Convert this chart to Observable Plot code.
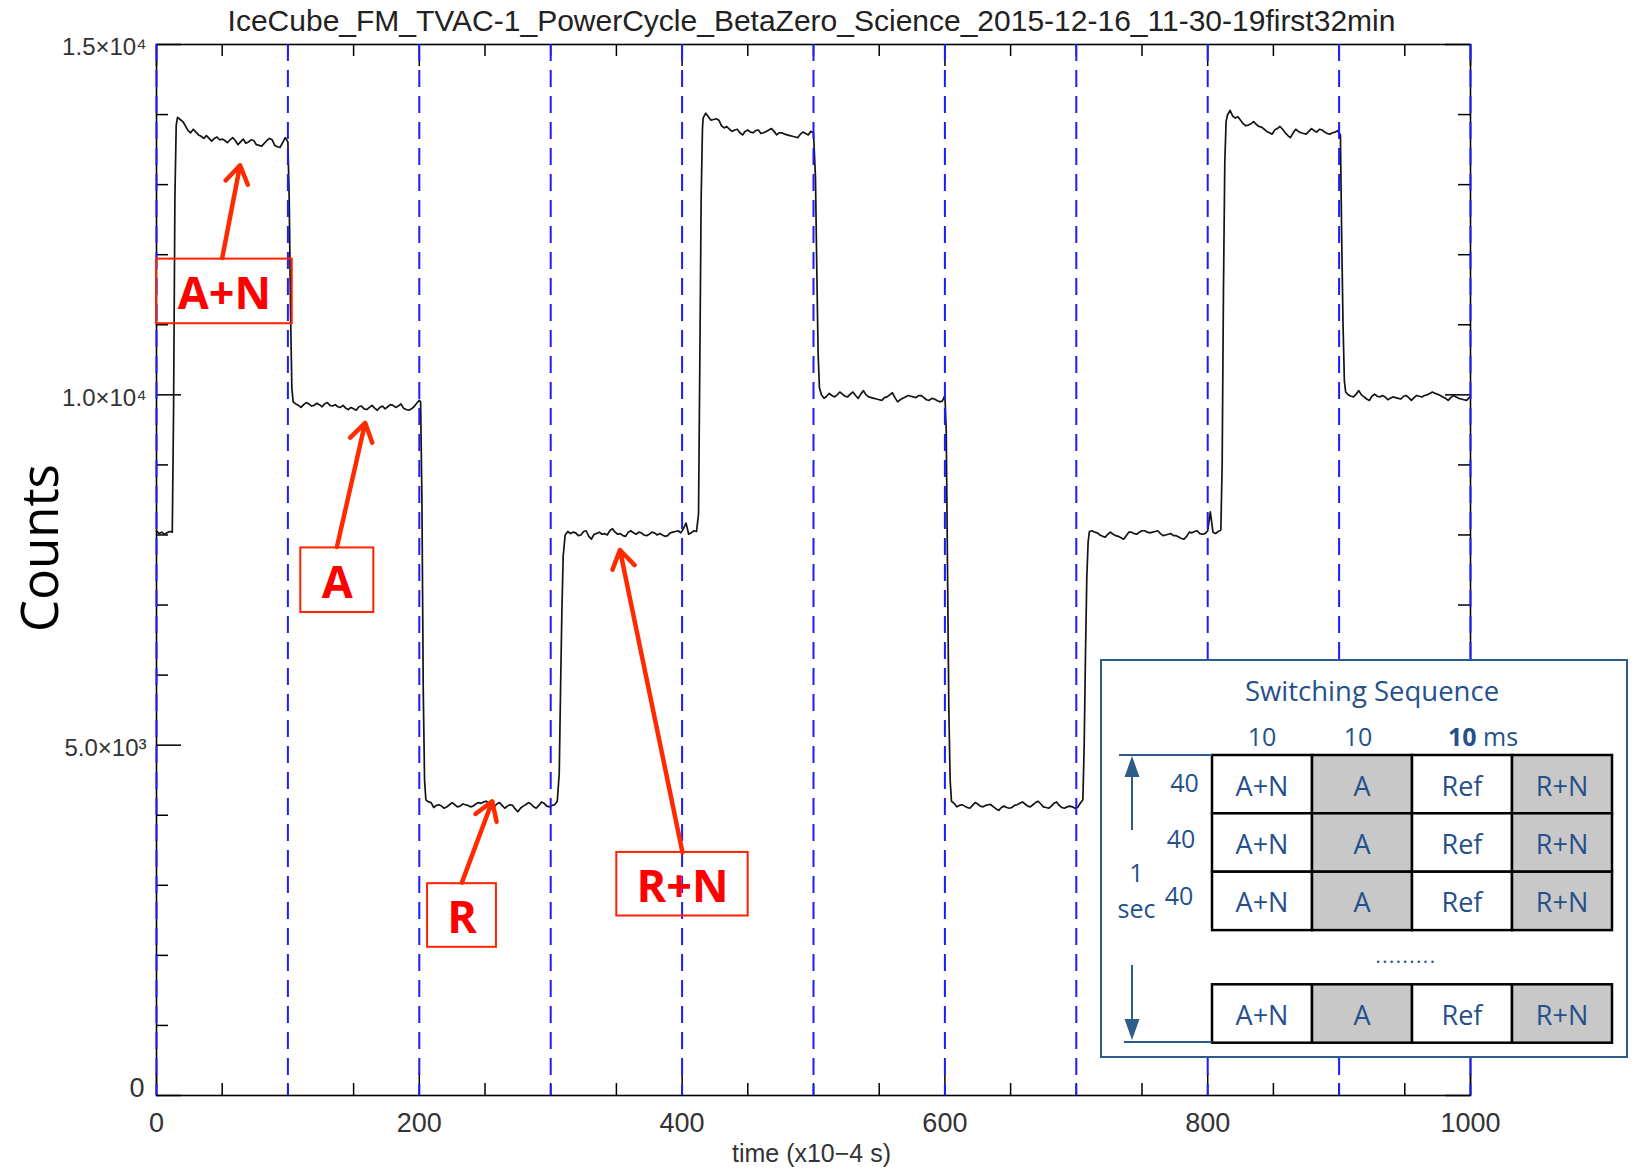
<!DOCTYPE html>
<html>
<head>
<meta charset="utf-8">
<script src="https://cdn.jsdelivr.net/npm/d3@7"></script>
<script src="https://cdn.jsdelivr.net/npm/@observablehq/plot@0.6"></script>
<style>
  body { margin: 0; background: #fff; }
  #wrap { position: relative; width: 1635px; height: 1170px; overflow: hidden; background: #fff; }
  #inset { position: absolute; left: 1100px; top: 659px; width: 528px; height: 399px; }
</style>
</head>
<body>
<div id="wrap"><div id="chart"></div><div id="inset"></div></div>
<script>
// ---------------- DATA ----------------
const chartTitle = "IceCube_FM_TVAC-1_PowerCycle_BetaZero_Science_2015-12-16_11-30-19first32min";
const xAxisTitle = "time (x10−4 s)";
const yAxisTitle = "Counts";

const xTickValues = [0, 200, 400, 600, 800, 1000];
const xTickLabels = ["0", "200", "400", "600", "800", "1000"];
const xMinorTicks = [50, 100, 150, 250, 300, 350, 450, 500, 550, 650, 700, 750, 850, 900, 950];
const yTickValues = [0, 5000, 10000, 15000];
const yTickLabels = ["0", "5.0×10³", "1.0×10⁴", "1.5×10⁴"];
const yMinorTicks = [1000, 2000, 3000, 4000, 6000, 7000, 8000, 9000, 11000, 12000, 13000, 14000];
const switchTimes = [0, 100, 200, 300, 400, 500, 600, 700, 800, 900, 1000];

// plateau segments: start time, step 2, counts
const rn0Start = 0;
const rn0 = [8060, 8020, 8040, 8010, 8030, 8050, 8040];
const rise0 = [[13, 9800], [14, 12800], [15, 13850]];
const an1Start = 16;
const an1 = [13960, 13930, 13900, 13840, 13770, 13740, 13790, 13750, 13710, 13690,
             13660, 13700, 13660, 13620, 13660, 13680, 13640, 13650, 13630, 13600,
             13640, 13670, 13630, 13570, 13610, 13650, 13590, 13610, 13640, 13630,
             13570, 13560, 13550, 13590, 13630, 13660, 13640, 13560, 13540, 13530,
             13600, 13670, 13610];
const drop1 = [[101, 12800], [102, 11200], [103, 10100]];
const a1Start = 104;
const a1 = [9900, 9870, 9850, 9820, 9860, 9890, 9870, 9840, 9850, 9880,
            9860, 9830, 9870, 9890, 9850, 9840, 9860, 9830, 9820, 9850,
            9810, 9790, 9820, 9800, 9780, 9830, 9840, 9800, 9790, 9820,
            9850, 9810, 9780, 9820, 9840, 9800, 9830, 9860, 9850, 9820,
            9840, 9870, 9810, 9790, 9780, 9800, 9830, 9880, 9920];
const drop2 = [[201, 9900], [202, 8500], [203, 5800], [204, 4500]];
const r1Start = 205;
const r1 = [4220, 4190, 4180, 4110, 4140, 4150, 4130, 4100, 4120, 4150,
            4180, 4150, 4120, 4130, 4160, 4150, 4140, 4120, 4130, 4160,
            4180, 4170, 4190, 4200, 4170, 4130, 4120, 4160, 4180, 4140,
            4100, 4130, 4150, 4140, 4090, 4050, 4100, 4130, 4150, 4180,
            4160, 4120, 4100, 4140, 4190, 4170, 4130, 4120, 4140, 4150,
            4200];
const rise3 = [[306.5, 4600], [307.5, 5800], [308.5, 6900], [309.5, 7700]];
const rn1Start = 311;
const rn1 = [8000, 8050, 8020, 8040, 8030, 7990, 8000, 8050, 8060, 7980,
             7940, 8010, 8020, 8040, 8010, 8020, 8000, 8060, 8090, 8040,
             8010, 8020, 7990, 7980, 8040, 8060, 8030, 8010, 8040, 8030,
             8000, 7990, 8010, 8040, 8030, 8000, 8020, 8000, 7980, 7990,
             8030, 8040, 8050, 8060, 8030, 8090, 8170, 8010, 8030, 8060,
             8050];
const rise4 = [[412.5, 8300], [413.5, 10500], [414.5, 12800], [415.5, 13800]];
const an2Start = 416;
const an2 = [13950, 14020, 13970, 13920, 13930, 13940, 13920, 13840, 13810, 13830,
             13790, 13760, 13780, 13790, 13740, 13710, 13760, 13780, 13750, 13740,
             13770, 13780, 13730, 13740, 13760, 13780, 13800, 13760, 13710, 13740,
             13740, 13720, 13710, 13700, 13690, 13680, 13670, 13720, 13750, 13730,
             13710, 13760, 13740];
const drop5 = [[501.5, 13100], [502.5, 11800], [503.5, 10600], [504.5, 10100]];
const a2Start = 506;
const a2 = [10000, 9950, 9980, 10020, 9990, 9970, 10000, 10040, 10010, 9980,
            9970, 10010, 10040, 9990, 9950, 10010, 10060, 10000, 9970, 9960,
            9950, 9940, 9930, 9920, 9960, 9970, 10000, 10030, 9960, 9900,
            9930, 9950, 9970, 9990, 9980, 9970, 9960, 9990, 9990, 9960,
            9930, 9920, 9950, 9940, 9920, 9900, 9910, 9990];
const drop6 = [[601, 9500], [602, 7500], [603, 5500], [604, 4500]];
const r2Start = 605;
const r2 = [4200, 4170, 4120, 4140, 4150, 4130, 4110, 4100, 4140, 4180,
            4160, 4130, 4120, 4140, 4150, 4150, 4120, 4090, 4070, 4110,
            4130, 4110, 4100, 4110, 4140, 4150, 4170, 4190, 4160, 4130,
            4120, 4150, 4180, 4200, 4160, 4120, 4110, 4100, 4130, 4170,
            4190, 4140, 4110, 4100, 4120, 4130, 4120, 4100, 4110, 4170,
            4220];
const rise7 = [[706, 5000], [707, 6300], [708, 7400], [709, 7900]];
const rn2Start = 710;
const rn2 = [8050, 8060, 8040, 8030, 8000, 7980, 7970, 8010, 8040, 8010,
             7990, 7980, 7960, 7940, 7990, 8040, 8040, 8020, 8010, 8040,
             8060, 8060, 8040, 8030, 8040, 8050, 8060, 8020, 7990, 8000,
             8010, 8020, 7990, 7990, 7970, 7950, 7940, 7980, 8040, 8030,
             8050, 8060, 8020, 8010, 8020, 8060, 8330, 8040, 8020, 8050,
             8070];
const rise8 = [[811, 9000], [812, 11500], [813, 13300], [814, 13900]];
const an3Start = 815;
const an3 = [13990, 14060, 13980, 13950, 13970, 13920, 13870, 13840, 13850, 13870,
             13900, 13860, 13830, 13820, 13790, 13760, 13740, 13720, 13780, 13800,
             13830, 13790, 13740, 13700, 13670, 13740, 13790, 13760, 13740, 13730,
             13720, 13760, 13800, 13770, 13750, 13790, 13780, 13750, 13730, 13720,
             13740, 13750, 13770, 13710];
const drop9 = [[902, 12200], [903, 11000], [904, 10200]];
const a3Start = 905;
const a3 = [10040, 10000, 9980, 9970, 10010, 10060, 10000, 9970, 9940, 9920,
            9980, 10010, 9980, 9970, 9990, 9970, 9930, 9950, 9970, 9960,
            9950, 9940, 9980, 9990, 9960, 9920, 9960, 9990, 9980, 9970,
            9990, 10000, 10020, 10040, 10020, 10010, 9990, 9970, 9950, 9920,
            9960, 9990, 9970, 9950, 9940, 9930, 9920, 9960];
const endPoint = [[1000, 9970]];

// annotations (data coordinates)
const annoLabels = ["A+N", "A", "R", "R+N"];
const annoBoxX1 = [0, 109.8, 206.3, 350.3];
const annoBoxX2 = [103.3, 165.4, 258.7, 450.3];
const annoBoxYlo = [11015, 6893, 2115, 2562];
const annoBoxYhi = [11937, 7815, 3023, 3469];
const annoArrowX1 = [50.0, 137.3, 232.4, 400.3];
const annoArrowY1 = [11952, 7829, 3038, 3469];
const annoArrowX2 = [63.6, 158.8, 255.5, 352.7];
const annoArrowY2 = [13277, 9600, 4199, 7785];

// inset (switching sequence)
const insetTitle = "Switching Sequence";
const insetHeaders = ["10", "10", "10"];
const insetUnit = " ms";
const insetCells = ["A+N", "A", "Ref", "R+N"];
const insetShaded = [false, true, false, true];
const insetRowLabels = ["40", "40", "40"];
const insetSideLabel = ["1", "sec"];
const insetDots = ".........";

// ---------------- BUILD ----------------
const seg = (start, vals) => vals.map((v, i) => ({t: start + 2 * i, v}));
const pts = arr => arr.map(([t, v]) => ({t, v}));
const trace = [
  ...seg(rn0Start, rn0), ...pts(rise0), ...seg(an1Start, an1), ...pts(drop1),
  ...seg(a1Start, a1), ...pts(drop2), ...seg(r1Start, r1), ...pts(rise3),
  ...seg(rn1Start, rn1), ...pts(rise4), ...seg(an2Start, an2), ...pts(drop5),
  ...seg(a2Start, a2), ...pts(drop6), ...seg(r2Start, r2), ...pts(rise7),
  ...seg(rn2Start, rn2), ...pts(rise8), ...seg(an3Start, an3), ...pts(drop9),
  ...seg(a3Start, a3), ...pts(endPoint)
].sort((a, b) => a.t - b.t);

const annos = annoLabels.map((label, i) => ({
  label, x1: annoBoxX1[i], x2: annoBoxX2[i], ylo: annoBoxYlo[i], yhi: annoBoxYhi[i],
  ax1: annoArrowX1[i], ay1: annoArrowY1[i], ax2: annoArrowX2[i], ay2: annoArrowY2[i]
}));

const W = 1635, H = 1170;
const mL = 156, mR = 165, mT = 44, mB = 75;
const fw = W - mL - mR, fh = H - mT - mB;
const tickFont = "Liberation Sans, Arial, sans-serif";

const chart = Plot.plot({
  width: W, height: H,
  marginLeft: mL, marginRight: mR, marginTop: mT, marginBottom: mB,
  x: {domain: [0, 1000], axis: null},
  y: {domain: [0, 15000], axis: null},
  style: {background: "#fff", overflow: "visible"},
  marks: [
    // ticks (inward, IDL style)
    Plot.tickX(xTickValues, {x: d => d, insetTop: fh - 22, stroke: "#000", strokeWidth: 1.5}),
    Plot.tickX(xMinorTicks, {x: d => d, insetTop: fh - 12, stroke: "#000", strokeWidth: 1.5}),
    Plot.tickX(xTickValues, {x: d => d, insetBottom: fh - 22, stroke: "#000", strokeWidth: 1.5}),
    Plot.tickX(xMinorTicks, {x: d => d, insetBottom: fh - 12, stroke: "#000", strokeWidth: 1.5}),
    Plot.tickY(yTickValues, {y: d => d, insetRight: fw - 25, stroke: "#000", strokeWidth: 1.5}),
    Plot.tickY(yMinorTicks, {y: d => d, insetRight: fw - 12, stroke: "#000", strokeWidth: 1.5}),
    Plot.tickY(yTickValues, {y: d => d, insetLeft: fw - 25, stroke: "#000", strokeWidth: 1.5}),
    Plot.tickY(yMinorTicks, {y: d => d, insetLeft: fw - 12, stroke: "#000", strokeWidth: 1.5}),
    Plot.frame({stroke: "#000", strokeWidth: 1.6}),
    // signal trace
    Plot.line(trace, {x: "t", y: "v", stroke: "#141414", strokeWidth: 1.7, strokeLinejoin: "round"}),
    // switching boundaries
    Plot.ruleX(switchTimes, {x: d => d, stroke: "#1c1cff", strokeWidth: 2, strokeDasharray: "17,9"}),
    // tick labels
    Plot.text(xTickValues, {x: d => d, frameAnchor: "bottom", lineAnchor: "middle", dy: 28,
      text: (d, i) => xTickLabels[i], fontSize: 27, fontFamily: tickFont, fill: "#333", ariaLabel: "xticklabels"}),
    Plot.text(yTickValues, {filter: d => d !== 0, y: d => d, frameAnchor: "left", lineAnchor: "middle",
      dx: -10, dy: 3, textAnchor: "end", text: d => yTickLabels[yTickValues.indexOf(d)],
      fontSize: 24, fontFamily: tickFont, fill: "#333", ariaLabel: "yticklabels"}),
    Plot.text(yTickValues, {filter: d => d === 0, y: d => d, frameAnchor: "left", lineAnchor: "bottom",
      dx: -12, dy: 1, textAnchor: "end", text: d => yTickLabels[yTickValues.indexOf(d)],
      fontSize: 27, fontFamily: tickFont, fill: "#333"}),
    // axis titles and chart title
    Plot.text([chartTitle], {frameAnchor: "top", lineAnchor: "middle", dy: -23, dx: -2, text: d => d,
      fontSize: 30, fontFamily: tickFont, fill: "#222", ariaLabel: "title"}),
    Plot.text([xAxisTitle], {frameAnchor: "bottom", lineAnchor: "middle", dy: 58, dx: -2, text: d => d,
      fontSize: 25, fontFamily: tickFont, fill: "#333", ariaLabel: "xtitle"}),
    Plot.text([yAxisTitle], {frameAnchor: "left", textAnchor: "middle", lineAnchor: "middle",
      dx: -115, dy: -22, rotate: -90, text: d => d,
      fontSize: 51, fontFamily: "Open Sans, sans-serif", fill: "#000"}),
    // annotations
    Plot.rect(annos, {x1: "x1", x2: "x2", y1: "ylo", y2: "yhi", fill: "none", stroke: "#ff2200", strokeWidth: 2}),
    Plot.arrow(annos, {x1: "ax1", y1: "ay1", x2: "ax2", y2: "ay2", stroke: "#ff2a00", strokeWidth: 4.5,
      headLength: 7, headAngle: 65}),
    Plot.text(annos, {x: d => (d.x1 + d.x2) / 2, y: d => (d.ylo + d.yhi) / 2, dy: 3, text: "label",
      fontSize: 45, fontWeight: "bold", fontFamily: "Open Sans, sans-serif", fill: "#ff0000"})
  ]
});
document.getElementById("chart").appendChild(chart);

const svgSel = d3.select(chart);
svgSel.select('g[aria-label="title"] text').attr("textLength", 1350).attr("lengthAdjust", "spacingAndGlyphs");
svgSel.select('g[aria-label="xtitle"] text').attr("textLength", 192).attr("lengthAdjust", "spacingAndGlyphs");
svgSel.select('g[aria-label="yticklabels"]').attr("letter-spacing", "2px");
svgSel.select('g[aria-label="xticklabels"]').attr("letter-spacing", "2px");

// ---------------- INSET ----------------
const blue = "#25508c";
const iw = 528, ih = 399;
const inset = d3.select("#inset").append("svg").attr("width", iw).attr("height", ih)
  .style("font-family", "Open Sans, sans-serif");
inset.append("rect").attr("x", 1).attr("y", 1).attr("width", iw - 2).attr("height", ih - 2)
  .attr("fill", "#fff").attr("stroke", "#2e5c8a").attr("stroke-width", 2);
inset.append("text").attr("x", 272).attr("y", 31).attr("text-anchor", "middle").attr("dominant-baseline", "central")
  .attr("font-size", 27.5).attr("fill", blue).text(insetTitle);
const colX = [112, 212, 312, 412, 512];
const headerX = [162, 258, 383];
insetHeaders.forEach((h, i) => {
  const t = inset.append("text").attr("x", headerX[i]).attr("y", 77).attr("text-anchor", "middle")
    .attr("dominant-baseline", "central").attr("font-size", 25).attr("fill", blue);
  if (i < 2) t.text(h);
  else { t.append("tspan").attr("font-weight", "bold").text(h); t.append("tspan").text(insetUnit); }
});
const rowsY = [96, 154.3, 212.7, 325.3];
const rowH = 58.4;
rowsY.forEach(y0 => {
  insetCells.forEach((c, j) => {
    inset.append("rect").attr("x", colX[j]).attr("y", y0).attr("width", colX[j + 1] - colX[j]).attr("height", rowH)
      .attr("fill", insetShaded[j] ? "#c8c8c8" : "#fff").attr("stroke", "#000").attr("stroke-width", 2.5);
    inset.append("text").attr("x", (colX[j] + colX[j + 1]) / 2).attr("y", y0 + rowH / 2 + 1)
      .attr("text-anchor", "middle").attr("dominant-baseline", "central").attr("font-size", 27)
      .attr("fill", blue).text(c);
  });
});
const rowLabelPos = [[84.5, 123], [81, 179], [79, 235.6]];
insetRowLabels.forEach((l, i) => {
  inset.append("text").attr("x", rowLabelPos[i][0]).attr("y", rowLabelPos[i][1]).attr("text-anchor", "middle")
    .attr("dominant-baseline", "central").attr("font-size", 25).attr("fill", blue).text(l);
});
inset.append("text").attr("x", 36.5).attr("y", 213).attr("text-anchor", "middle").attr("dominant-baseline", "central")
  .attr("font-size", 25).attr("fill", blue).text(insetSideLabel[0]);
inset.append("text").attr("x", 36.5).attr("y", 249).attr("text-anchor", "middle").attr("dominant-baseline", "central")
  .attr("font-size", 25).attr("fill", blue).text(insetSideLabel[1]);
inset.append("text").attr("x", 306).attr("y", 296).attr("text-anchor", "middle").attr("dominant-baseline", "central")
  .attr("font-size", 20).attr("letter-spacing", "1.5px").attr("fill", blue).text(insetDots);
// bracket lines and arrows
inset.append("line").attr("x1", 19).attr("x2", 112).attr("y1", 96).attr("y2", 96).attr("stroke", "#2e5c8a").attr("stroke-width", 2);
inset.append("line").attr("x1", 24).attr("x2", 112).attr("y1", 383).attr("y2", 383).attr("stroke", "#2e5c8a").attr("stroke-width", 2);
inset.append("line").attr("x1", 32).attr("x2", 32).attr("y1", 112).attr("y2", 171).attr("stroke", "#2e5c8a").attr("stroke-width", 2);
inset.append("path").attr("d", "M32,97 L24.5,118 L39.5,118 Z").attr("fill", "#2e5c8a");
inset.append("line").attr("x1", 32).attr("x2", 32).attr("y1", 306).attr("y2", 366).attr("stroke", "#2e5c8a").attr("stroke-width", 2);
inset.append("path").attr("d", "M32,381 L24.5,360 L39.5,360 Z").attr("fill", "#2e5c8a");
</script>
</body>
</html>
